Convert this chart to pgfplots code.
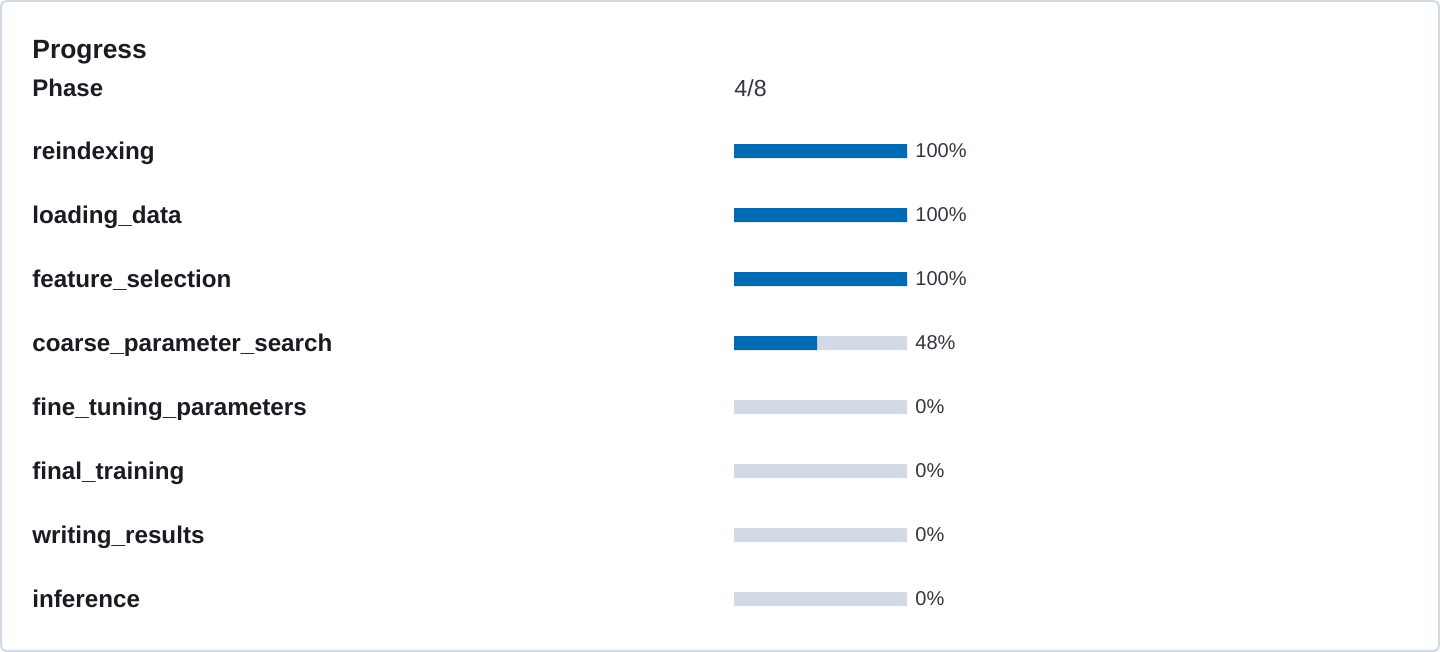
\documentclass[border=0pt]{standalone}
\usepackage{fontspec}
\setmainfont{Liberation Sans}
\usepackage{pgfplots}
\usepackage{pgfplotstable}
\pgfplotsset{compat=1.18}

\definecolor{euiblue}{HTML}{006BB4}
\definecolor{track}{HTML}{D3DAE6}
\definecolor{ink}{HTML}{1A1C21}
\definecolor{subink}{HTML}{343741}
\definecolor{frame}{HTML}{D3DAE6}

% one row per phase, top to bottom
\pgfplotstableread{
y full pct
0 100 100
1 100 100
2 100 100
3 100 48
4 100 0
5 100 0
6 100 0
7 100 0
}\phases

\begin{document}
\begin{tikzpicture}
\useasboundingbox (0,0) rectangle (720pt,326pt);
\draw[frame, line width=1pt, fill=white, rounded corners=3pt] (0.5pt,0.5pt) rectangle (719.5pt,325.5pt);

\node[anchor=base west, inner sep=0pt, text=ink, font=\fontsize{13.2}{16}\selectfont\bfseries] at (16pt,296.5pt) {Progress};
\node[anchor=base west, inner sep=0pt, text=ink, font=\fontsize{12}{14}\selectfont\bfseries] at (16pt,277.5pt) {Phase};
\node[anchor=base west, inner sep=0pt, text=subink, font=\fontsize{11.6}{14}\selectfont] at (367pt,277.5pt) {4/8};

\begin{axis}[
	at={(367pt,10.5pt)}, anchor=south west,
	scale only axis, width=86.5pt, height=256pt,
	xmin=0, xmax=100, ymin=-0.5, ymax=7.5,
	y dir=reverse,
	axis line style={draw=none},
	major tick style={draw=none},
	xtick=\empty,
	ytick={0,...,7},
	yticklabels={reindexing,loading\_data,feature\_selection,coarse\_parameter\_search,fine\_tuning\_parameters,final\_training,writing\_results,inference},
	yticklabel style={anchor=base west, inner sep=0pt, xshift=-351pt, yshift=-4.25pt, text=ink, font=\fontsize{12.1}{14}\selectfont\bfseries},
	clip=false,
]
\addplot[xbar, bar width=7pt, bar shift=0pt, fill=track, draw=none,
	point meta=explicit,
	nodes near coords={\pgfmathprintnumber[fixed,precision=0,assume math mode=true]{\pgfplotspointmeta}\%},
	every node near coord/.append style={anchor=base west, inner sep=0pt, xshift=4pt, yshift=-3pt, text=subink, font=\fontsize{10}{12}\selectfont},
] table[x=full, y=y, meta=pct] {\phases};
% blue fill only where there is progress
\addplot[xbar, bar width=7pt, bar shift=0pt, fill=euiblue, draw=none,
	x filter/.expression={x==0 ? nan : x}]
	table[x=pct, y=y] {\phases};
\end{axis}
\end{tikzpicture}
\end{document}
